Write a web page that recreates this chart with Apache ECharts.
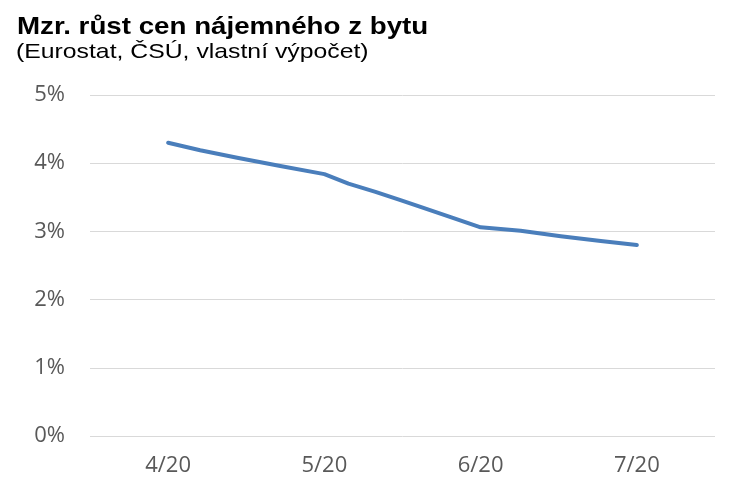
<!DOCTYPE html>
<html>
<head>
<meta charset="utf-8">
<script src="https://cdn.jsdelivr.net/npm/echarts@6/dist/echarts.min.js"></script>
<style>html,body{margin:0;padding:0;background:#fff}#c{width:738px;height:489px}</style>
</head>
<body>
<div id="c"></div>
<script>
const titleText = 'Mzr. růst cen nájemného z bytu';
const subtitleText = '(Eurostat, ČSÚ, vlastní výpočet)';
const categories = ['4/20', '5/20', '6/20', '7/20'];
const yTicks = [0, 1, 2, 3, 4, 5];
// positions along the category axis (category index) and values in %
const xPos   = [0, 0.205, 0.442, 0.718, 1.0, 1.154, 1.327, 1.487, 1.615, 1.808, 2.0, 2.256, 2.513, 2.769, 3.0];
const values = [4.30, 4.19, 4.08, 3.96, 3.84, 3.70, 3.58, 3.46, 3.36, 3.21, 3.06, 3.01, 2.93, 2.86, 2.80];

const chart = echarts.init(document.getElementById('c'));
const labelFont = { color: '#595959', fontSize: 22, fontFamily: 'Open Sans, Noto Sans, sans-serif' };
chart.setOption({
  animation: false,
  graphic: [
    { type: 'text', x: 17, y: 15, scaleX: 1.155,
      style: { text: titleText, x: 0, y: 0, verticalAlign: 'top',
        font: 'bold 24px "Liberation Sans", Arial, sans-serif', fill: '#000' } },
    { type: 'text', x: 16, y: 42, scaleX: 1.18,
      style: { text: subtitleText, x: 0, y: 0, verticalAlign: 'top',
        font: '21px "Liberation Sans", Arial, sans-serif', fill: '#000' } }
  ],
  grid: { left: 90, right: 23, top: 95, bottom: 53, containLabel: false },
  xAxis: [
    { type: 'category', data: categories, boundaryGap: true,
      axisLine: { show: false }, axisTick: { show: false },
      axisLabel: Object.assign({ margin: 19 }, labelFont) },
    { type: 'value', min: -0.5, max: 3.5, show: false }
  ],
  yAxis: {
    type: 'value', min: yTicks[0], max: yTicks[yTicks.length - 1], interval: 1,
    axisLine: { show: false }, axisTick: { show: false },
    splitLine: { lineStyle: { color: '#d9d9d9', width: 1 } },
    axisLabel: Object.assign({ margin: 25, formatter: v => v + '%' }, labelFont)
  },
  series: [{
    type: 'line', xAxisIndex: 1,
    data: xPos.map((x, i) => [x, values[i]]),
    showSymbol: false, smooth: false,
    lineStyle: { color: '#4a7ebb', width: 4, cap: 'round', join: 'round' }
  }]
});
</script>
</body>
</html>
